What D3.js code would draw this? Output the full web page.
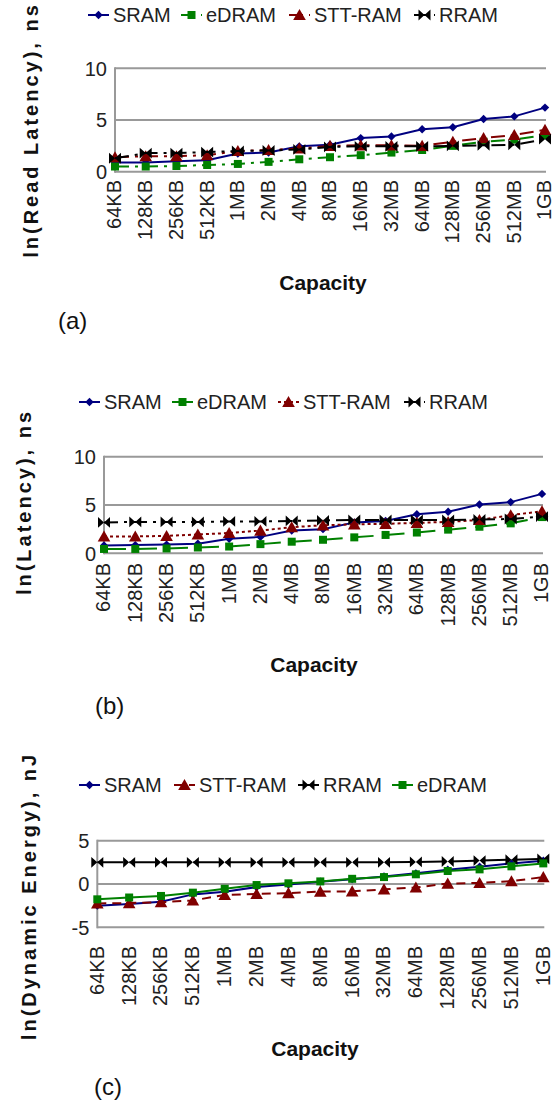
<!DOCTYPE html>
<html>
<head>
<meta charset="utf-8">
<script src="https://cdn.jsdelivr.net/npm/d3@7"></script>
<style>
  html, body { margin: 0; padding: 0; background: #fff; }
  svg { display: block; font-family: "Liberation Sans", Arial, sans-serif; }
</style>
</head>
<body>
<svg id="chart" width="556" height="1103"></svg>
<script>
// Memory capacities shared by all three panels
const capacities = ["64KB", "128KB", "256KB", "512KB", "1MB", "2MB", "4MB", "8MB",
  "16MB", "32MB", "64MB", "128MB", "256MB", "512MB", "1GB"];

// (a) ln(Read Latency), ns
const readSRAM  = [0.9, 0.9, 1.0, 1.1, 1.75, 1.85, 2.45, 2.6, 3.25, 3.4, 4.1, 4.3, 5.1, 5.35, 6.2];
const readEDRAM = [0.5, 0.5, 0.55, 0.65, 0.75, 0.95, 1.2, 1.4, 1.6, 1.85, 2.1, 2.5, 2.9, 3.1, 3.55];
const readSTT   = [1.4, 1.5, 1.5, 1.6, 2.0, 2.1, 2.25, 2.5, 2.55, 2.55, 2.5, 2.9, 3.25, 3.55, 4.05];
const readRRAM  = [1.3, 1.8, 1.8, 1.9, 2.0, 2.05, 2.15, 2.4, 2.45, 2.45, 2.45, 2.5, 2.55, 2.6, 3.15];

// (b) ln(Latency), ns
const latSRAM  = [0.8, 0.85, 0.9, 1.0, 1.5, 1.7, 2.35, 2.5, 3.2, 3.35, 4.05, 4.3, 5.05, 5.3, 6.15];
const latEDRAM = [0.45, 0.45, 0.5, 0.6, 0.7, 0.95, 1.2, 1.4, 1.65, 1.9, 2.15, 2.45, 2.75, 3.1, 3.75];
const latSTT   = [1.75, 1.75, 1.8, 1.95, 2.1, 2.35, 2.7, 2.9, 3.0, 3.05, 3.15, 3.25, 3.45, 3.95, 4.35];
const latRRAM  = [3.2, 3.25, 3.25, 3.25, 3.3, 3.3, 3.35, 3.4, 3.45, 3.45, 3.45, 3.45, 3.5, 3.55, 3.8];

// (c) ln(Dynamic Energy), nJ
const dynSRAM  = [-2.5, -2.3, -2.05, -1.2, -0.9, -0.35, -0.05, 0.27, 0.56, 0.88, 1.23, 1.65, 2.0, 2.38, 2.69];
const dynSTT   = [-2.25, -2.2, -2.1, -1.9, -1.27, -1.15, -1.05, -0.88, -0.85, -0.62, -0.4, 0.05, 0.12, 0.33, 0.8];
const dynRRAM  = [2.5, 2.5, 2.5, 2.5, 2.5, 2.5, 2.5, 2.5, 2.5, 2.5, 2.55, 2.6, 2.7, 2.8, 2.9];
const dynEDRAM = [-1.77, -1.56, -1.38, -1.0, -0.55, -0.12, 0.08, 0.3, 0.6, 0.8, 1.12, 1.5, 1.69, 2.04, 2.38];

// Y tick values per panel
const ticksLatency = [0, 5, 10];
const ticksEnergy  = [-5, 0, 5];

const COLORS = { SRAM: "#000080", eDRAM: "#008000", "STT-RAM": "#800000", RRAM: "#000000" };

// Marker path generators (centred on 0,0)
const markers = {
  diamond: s => `M0,${-s}L${s},0L0,${s}L${-s},0Z`,
  square: s => `M${-s},${-s}H${s}V${s}H${-s}Z`,
  triangle: s => `M0,${-s}L${s * 1.05},${s * 0.85}L${-s * 1.05},${s * 0.85}Z`,
  bowtie: s => `M${-s},${-s * 0.9}L0,0L${-s},${s * 0.9}ZM${s},${-s * 0.9}L0,0L${s},${s * 0.9}Z`
};
const markerOf = { SRAM: ["diamond", 4.2], eDRAM: ["square", 4], "STT-RAM": ["triangle", 6], RRAM: ["bowtie", 6] };

const svg = d3.select("#chart");

function drawPanel(p) {
  const g = svg.append("g");
  const x = d3.scalePoint().domain(capacities).range([p.x0, p.x1]).padding(0);
  const y = d3.scaleLinear().domain(p.domain).range([p.yBottom, p.yTop]);

  // horizontal gridlines (the lowest one doubles as the category axis)
  g.selectAll("line.grid").data(p.ticks).join("line")
    .attr("x1", p.x0).attr("x2", p.x1 + 1)
    .attr("y1", d => y(d)).attr("y2", d => y(d))
    .attr("stroke", "#999").attr("stroke-width", 2);
  // value axis line
  g.append("line").attr("x1", p.x0).attr("x2", p.x0)
    .attr("y1", y(p.domain[1]) - 1).attr("y2", y(p.domain[0]) + 1)
    .attr("stroke", "#999").attr("stroke-width", 2);

  // value tick labels
  g.selectAll("text.yt").data(p.ticks).join("text")
    .attr("x", p.x0 - 8).attr("y", d => y(d)).attr("dy", "0.36em")
    .attr("text-anchor", "end").attr("font-size", 20).attr("fill", "#222")
    .text(d => d);

  // category labels, rotated
  g.selectAll("text.xt").data(capacities).join("text")
    .attr("transform", d => `translate(${x(d)},${p.catY}) rotate(-90)`)
    .attr("dy", "0.32em").attr("text-anchor", "end")
    .attr("font-size", 20).attr("fill", "#222")
    .text(d => d);

  // series
  p.series.forEach(s => {
    const pts = s.values.map((v, i) => [x(capacities[i]), y(v)]);
    g.append("path").attr("d", d3.line()(pts))
      .attr("fill", "none").attr("stroke", COLORS[s.name]).attr("stroke-width", 2)
      .attr("stroke-dasharray", s.dash || null);
    const [shape, size] = markerOf[s.name];
    g.selectAll(null).data(pts).join("path")
      .attr("transform", d => `translate(${d[0]},${d[1]})`)
      .attr("d", markers[shape](size)).attr("fill", COLORS[s.name]);
  });

  // legend
  p.series.forEach(s => {
    const lx = p.legendX[s.legendIndex];
    const lg = g.append("g").attr("transform", `translate(${lx},${p.legendY})`);
    lg.append("line").attr("x1", 0).attr("x2", 21).attr("y1", 0).attr("y2", 0)
      .attr("stroke", COLORS[s.name]).attr("stroke-width", 2)
      .attr("stroke-dasharray", s.legendDash || s.dash || null);
    const [shape, size] = markerOf[s.name];
    lg.append("path").attr("transform", "translate(10.5,0)")
      .attr("d", markers[shape](size)).attr("fill", COLORS[s.name]);
    lg.append("text").attr("x", 25).attr("dy", "0.36em").attr("font-size", 20)
      .attr("fill", "#222").text(s.name);
  });

  // axis titles
  g.append("text").attr("x", p.capX).attr("y", p.capY).attr("dy", "0.36em")
    .attr("text-anchor", "middle").attr("font-size", 21).attr("font-weight", "bold")
    .attr("fill", "#111").text("Capacity");
  g.append("text")
    .attr("transform", `translate(${p.titleX},${p.titleY}) rotate(-90)`)
    .attr("text-anchor", "middle").attr("font-size", 20).attr("font-weight", "bold")
    .attr("letter-spacing", 3).attr("fill", "#111").text(p.title);

  // panel letter
  g.append("text").attr("x", p.tagX).attr("y", p.tagY).attr("dy", "0.36em")
    .attr("font-size", 24).attr("fill", "#111").text(p.tag);
}

const dashDot = "14,6,3,6";

drawPanel({
  x0: 115, x1: 545, yTop: 68.3, yBottom: 171.7, domain: [0, 10], ticks: ticksLatency,
  catY: 180, capX: 323, capY: 282, tag: "(a)", tagX: 58, tagY: 320,
  title: "ln(Read Latency), ns", titleX: 38, titleY: 130,
  legendY: 15, legendX: [88, 181, 289, 414],
  series: [
    { name: "SRAM", values: readSRAM, legendIndex: 0 },
    { name: "eDRAM", values: readEDRAM, dash: dashDot, legendIndex: 1 },
    { name: "STT-RAM", values: readSTT, dash: dashDot, legendIndex: 2 },
    { name: "RRAM", values: readRRAM, dash: dashDot, legendIndex: 3 }
  ]
});

drawPanel({
  x0: 104, x1: 542, yTop: 456.7, yBottom: 553.3, domain: [0, 10], ticks: ticksLatency,
  catY: 563, capX: 314, capY: 664, tag: "(b)", tagX: 95, tagY: 705,
  title: "ln(Latency), ns", titleX: 31, titleY: 502,
  legendY: 402, legendX: [79, 172, 278, 404],
  series: [
    { name: "SRAM", values: latSRAM, legendIndex: 0 },
    { name: "eDRAM", values: latEDRAM, dash: "22,9", legendIndex: 1 },
    { name: "STT-RAM", values: latSTT, dash: "3,3", legendIndex: 2 },
    { name: "RRAM", values: latRRAM, dash: dashDot, legendIndex: 3 }
  ]
});

drawPanel({
  x0: 97.3, x1: 543.3, yTop: 840.7, yBottom: 927.3, domain: [-5, 5], ticks: ticksEnergy,
  catY: 946, capX: 315, capY: 1048, tag: "(c)", tagX: 94, tagY: 1086,
  title: "ln(Dynamic Energy), nJ", titleX: 36, titleY: 896,
  legendY: 785, legendX: [79, 174, 298, 392],
  series: [
    { name: "SRAM", values: dynSRAM, legendIndex: 0 },
    { name: "STT-RAM", values: dynSTT, dash: "9,6", legendIndex: 1 },
    { name: "RRAM", values: dynRRAM, dash: "26,6", legendDash: "none", legendIndex: 2 },
    { name: "eDRAM", values: dynEDRAM, legendIndex: 3 }
  ]
});
</script>
</body>
</html>
